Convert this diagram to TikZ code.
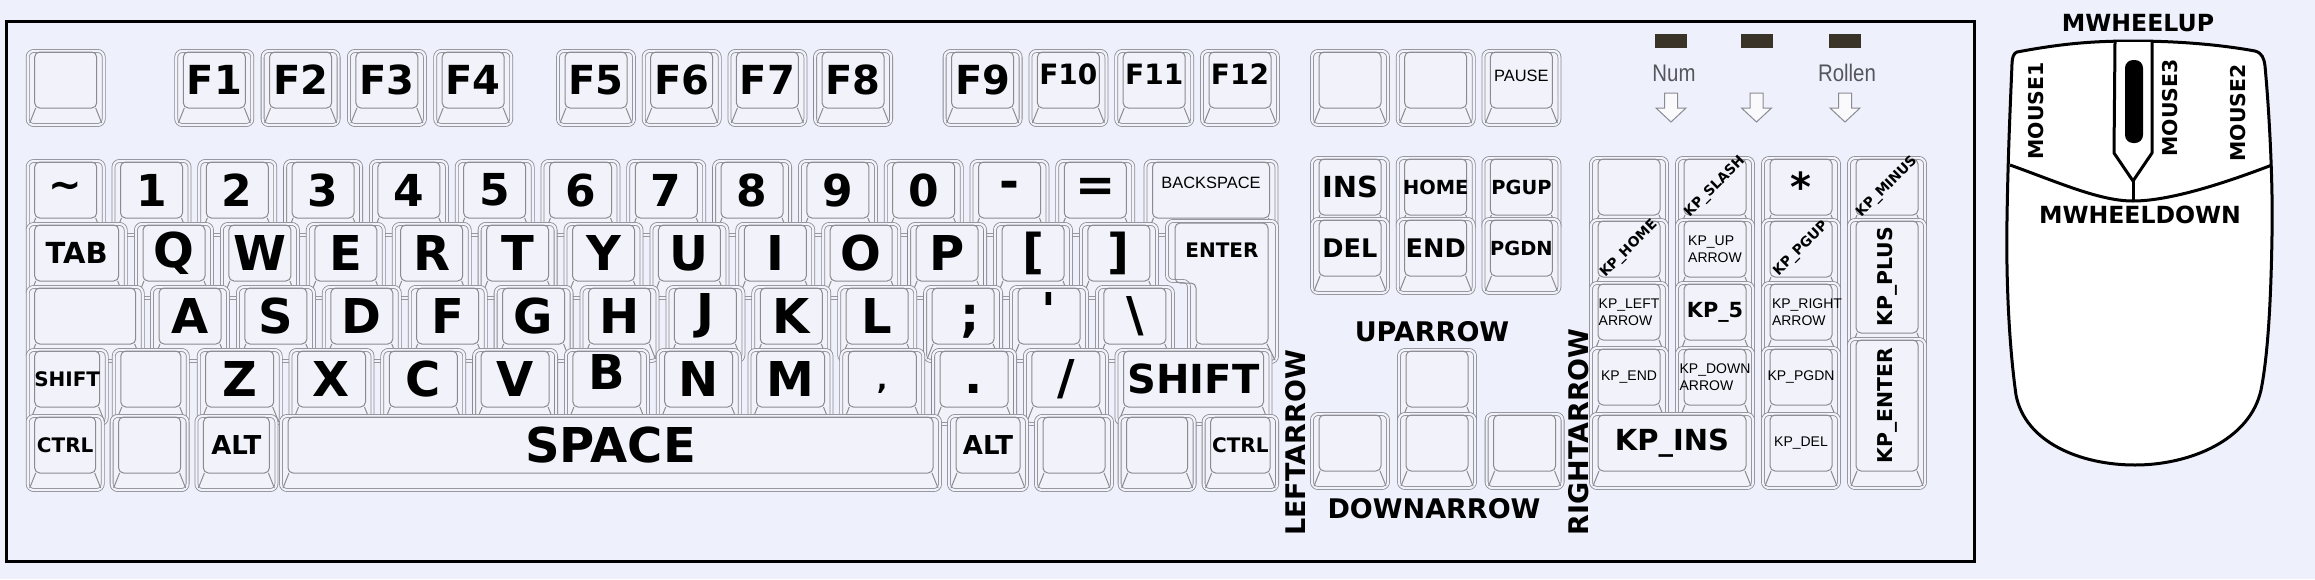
\documentclass[tikz,border=0pt]{standalone}
\usepackage{fontspec}
\setmainfont{DejaVu Sans}
\newfontfamily\narrowfont{Liberation Sans}
\usetikzlibrary{calc}
\definecolor{bgcol}{RGB}{238,240,251}
\definecolor{keyfill}{RGB}{242,243,250}
\definecolor{keygray}{RGB}{138,138,146}
\definecolor{ledcol}{RGB}{58,52,40}
\definecolor{numgray}{RGB}{85,85,92}
\tikzset{
  keyouter/.style={draw=keygray,line width=0.4pt,double=keyfill,double distance=1.1pt,fill=keyfill,rounded corners=3pt},
  keyline/.style={draw=keygray,line width=0.5pt},
  keylabel/.style={inner sep=0pt,outer sep=0pt},
  bigkey/.style={keylabel,font=\fontsize{24}{24}\selectfont\bfseries},
  numkey/.style={keylabel,font=\fontsize{22}{22}\selectfont\bfseries},
  fkey/.style={keylabel,font=\fontsize{20}{20}\selectfont\bfseries},
  fsmall/.style={keylabel,font=\fontsize{14}{14}\selectfont\bfseries},
  midkey/.style={keylabel,font=\fontsize{14.5}{14.5}\selectfont\bfseries},
  altkey/.style={keylabel,font=\fontsize{13}{13}\selectfont\bfseries},
  delkey/.style={keylabel,font=\fontsize{12.8}{12.8}\selectfont\bfseries},
  smallkey/.style={keylabel,font=\fontsize{10}{10}\selectfont\bfseries},
  navkey/.style={keylabel,font=\fontsize{9.7}{9.7}\selectfont\bfseries},
  tinykey/.style={keylabel,font=\narrowfont\fontsize{8.2}{8.2}\selectfont},
  kpsmall/.style={keylabel,align=left,font=\narrowfont\fontsize{7}{8.3}\selectfont},
  kpdiag/.style={keylabel,rotate=45,font=\fontsize{6.9}{6.9}\selectfont\bfseries},
  kpmid/.style={keylabel,font=\fontsize{10.4}{10.4}\selectfont\bfseries},
  kpvert/.style={keylabel,rotate=90,font=\fontsize{10.2}{10.2}\selectfont\bfseries},
  sidelabel/.style={keylabel,font=\fontsize{13.5}{13.5}\selectfont\bfseries},
  ledlabel/.style={keylabel,xscale=0.85,text=numgray,font=\narrowfont\fontsize{12}{12}\selectfont},
  mouseline/.style={draw=black,line width=1.5pt,line join=round},
  mouselabel/.style={keylabel,font=\fontsize{10.2}{10.2}\selectfont\bfseries},
  wheellabel/.style={keylabel,font=\fontsize{11.8}{11.8}\selectfont\bfseries},
}
% key: name, label style, left, top, width, height, label
\newcommand{\kbkey}[7]{%
  \begin{scope}[shift={({#3},{#4})}]
    \draw[keyouter] (0,0) rectangle (#5,#6);
    \draw[keyline,rounded corners=2.5pt] (7,1) rectangle (#5-7,#6-17);
    \draw[keyline] (8,#6-17) -- (2,#6-2) (#5-8,#6-17) -- (#5-2,#6-2);
    \node[#2] (#1) at (#5/2,#6/2-8) {#7};
  \end{scope}}
\newcommand{\ledarrow}[1]{%
  \draw[keyline,fill=white!60!keyfill] (#1-6.5,93) -- (#1+6.5,93) -- (#1+6.5,108) -- (#1+15,108)
    -- (#1,122) -- (#1-15,108) -- (#1-6.5,108) -- cycle;}

\begin{document}
\begin{tikzpicture}[x=0.5pt,y=-0.5pt]
  \fill[bgcol] (0,0) rectangle (2315,579);
  \useasboundingbox (0,0) rectangle (2315,579);
  \draw[line width=1.5pt] (6,21) rectangle (1974,561);

  % function row
  \kbkey{esc}{bigkey}{27.7}{51}{76}{74}{}
  \foreach \i [count=\n from 0] in {1,...,4} {\kbkey{f\i}{fkey}{176.3+\n*86.3}{51}{76}{74}{F\i}}
  \foreach \i [count=\n from 0] in {5,...,8} {\kbkey{f\i}{fkey}{558+\n*85.7}{51}{76}{74}{F\i}}
  \kbkey{f9}{fkey}{944.6}{51}{76}{74}{F9}
  \foreach \i [count=\n from 1] in {10,11,12} {\kbkey{f\i}{fsmall,yshift=3pt}{944.6+\n*85.8}{51}{76}{74}{F\i}}
  \kbkey{print}{keylabel}{1312}{51}{76}{74}{}
  \kbkey{scroll}{keylabel}{1397.7}{51}{76}{74}{}
  \kbkey{pause}{tinykey,yshift=2pt}{1483.4}{51}{76}{74}{PAUSE}

  % number row
  \kbkey{tilde}{fkey}{27.7}{161}{76}{74}{\textasciitilde}
  \foreach \i [count=\n] in {1,2,3,4,5,6,7,8,9,0} {\kbkey{n\i}{numkey}{27.7+\n*85.8}{161}{76}{74}{\i}}
  \kbkey{minus}{bigkey}{971.5}{161}{76}{74}{-}
  \kbkey{equal}{bigkey}{1057.3}{161}{76}{74}{=}
  \kbkey{bksp}{tinykey,yshift=3.5pt}{1145.5}{161}{131}{74}{BACKSPACE}

  % top letter row
  \kbkey{tab}{midkey}{27.7}{224}{98}{74}{TAB}
  \foreach \lab/\nm [count=\n from 0] in {Q/q,W/w,E/e,R/r,T/t,Y/y,U/u,I/i,O/o,P/p,{[}/lbrack,{]}/rbrack}
    {\kbkey{\nm}{bigkey}{136+\n*85.9}{224}{76}{74}{\lab}}
  \draw[keyouter] (1167,221) -- (1277,221) -- (1277,362) -- (1189,362) -- (1189,281) -- (1167,281) -- cycle;
  \draw[keyline,rounded corners=2.5pt] (1175,223) -- (1268,223) -- (1268,344) -- (1196,344) -- (1196,283) -- (1175,283) -- cycle;
  \draw[keyline] (1197,344) -- (1191,360) (1267,344) -- (1275,360);
  \node[smallkey] (enter) at (1222,250) {ENTER};

  % middle letter row
  \kbkey{caps}{keylabel}{27.7}{287}{115}{74}{}
  \foreach \lab/\nm [count=\n from 0] in {A/a,S/s,D/d,F/f,G/g,H/h,J/j,K/k,L/l}
    {\kbkey{\nm}{bigkey}{152+\n*85.9}{287}{76}{74}{\lab}}
  \kbkey{semicolon}{bigkey,xshift=3.5pt,yshift=-3pt}{925.1}{287}{76}{74}{;}
  \kbkey{quote}{bigkey,yshift=3pt}{1011}{287}{76}{74}{\textquotesingle}
  \kbkey{backslash}{bigkey}{1096.9}{287}{76}{74}{\textbackslash}

  % bottom letter row
  \kbkey{lshift}{smallkey}{27.7}{350}{79}{74}{SHIFT}
  \kbkey{ltgt}{keylabel}{113.8}{350}{74}{74}{}
  \foreach \lab/\nm/\dy [count=\n from 0] in {Z/z/0,X/x/0,C/c/0,V/v/0,B/b/3.5,N/n/0,M/m/0}
    {\kbkey{\nm}{bigkey,yshift=\dy pt}{198.7+\n*91.8}{350}{82}{74}{\lab}}
  \kbkey{comma}{fsmall,yshift=-5pt}{841.3}{350}{82}{74}{,}
  \kbkey{period}{bigkey,yshift=-5pt}{933.1}{350}{82}{74}{.}
  \kbkey{slash}{bigkey}{1024.9}{350}{82}{74}{/}
  \kbkey{rshift}{fkey}{1116.5}{350}{154}{74}{SHIFT}

  % space row
  \kbkey{lctrl}{smallkey}{27.7}{416}{75}{74}{CTRL}
  \kbkey{lwin}{keylabel}{111.6}{416}{76}{74}{}
  \kbkey{lalt}{altkey}{196.4}{416}{80}{74}{ALT}
  \kbkey{space}{bigkey}{281}{416}{659}{74}{SPACE}
  \kbkey{ralt}{altkey}{949}{416}{78}{74}{ALT}
  \kbkey{rwin}{keylabel}{1036}{416}{76}{74}{}
  \kbkey{menu}{keylabel}{1119.6}{416}{75}{74}{}
  \kbkey{rctrl}{smallkey}{1203.6}{416}{73.5}{74}{CTRL}

  % navigation block
  \kbkey{ins}{midkey}{1312}{158}{76}{74}{INS}
  \kbkey{home}{navkey}{1397.7}{158}{76}{74}{HOME}
  \kbkey{pgup}{navkey}{1483.4}{158}{76}{74}{PGUP}
  \kbkey{del}{delkey}{1312}{219}{76}{74}{DEL}
  \kbkey{end}{delkey}{1397.7}{219}{76}{74}{END}
  \kbkey{pgdn}{navkey}{1483.4}{219}{76}{74}{PGDN}

  % arrow block
  \kbkey{up}{keylabel}{1399}{350}{76}{74}{}
  \kbkey{left}{keylabel}{1312}{414}{76}{74}{}
  \kbkey{down}{keylabel}{1399}{414}{76}{74}{}
  \kbkey{right}{keylabel}{1486.6}{414}{76}{74}{}
  \node[sidelabel] (uparrow) at (1432,332) {UPARROW};
  \node[sidelabel] (downarrow) at (1434,509) {DOWNARROW};
  \node[sidelabel,rotate=90] (leftarrow) at (1296,443) {LEFTARROW};
  \node[sidelabel,rotate=90] (rightarrow) at (1579,432) {RIGHTARROW};

  % keypad
  \kbkey{numlock}{keylabel}{1591}{158}{76}{74}{}
  \kbkey{kpslash}{kpdiag}{1677}{158}{76}{74}{KP\_SLASH}
  \kbkey{kpstar}{fkey}{1763}{158}{76}{74}{*}
  \kbkey{kpminus}{kpdiag}{1849}{158}{76}{74}{KP\_MINUS}
  \kbkey{kphome}{kpdiag}{1591}{220}{76}{74}{KP\_HOME}
  \kbkey{kpup}{kpsmall}{1677}{220}{76}{74}{KP\_UP\\ARROW}
  \kbkey{kppgup}{kpdiag}{1763}{220}{76}{74}{KP\_PGUP}
  \kbkey{kpplus}{kpvert}{1849}{220}{76}{130}{KP\_PLUS}
  \kbkey{kpleft}{kpsmall}{1591}{283}{76}{74}{KP\_LEFT\\ARROW}
  \kbkey{kpfive}{kpmid}{1677}{283}{76}{74}{KP\_5}
  \kbkey{kpright}{kpsmall,xshift=3pt}{1763}{283}{76}{74}{KP\_RIGHT\\ARROW}
  \kbkey{kpend}{kpsmall}{1591}{348}{76}{74}{KP\_END}
  \kbkey{kpdown}{kpsmall}{1677}{348}{76}{74}{KP\_DOWN\\ARROW}
  \kbkey{kppgdn}{kpsmall}{1763}{348}{76}{74}{KP\_PGDN}
  \kbkey{kpenter}{kpvert}{1849}{339}{76}{149}{KP\_ENTER}
  \kbkey{kpins}{midkey}{1591}{414}{162}{74}{KP\_INS}
  \kbkey{kpdel}{kpsmall}{1763}{414}{76}{74}{KP\_DEL}

  % lock lights
  \foreach \lx/\nm in {1671/numled,1756.5/capsled,1845/scrollled} {
    \fill[ledcol] (\lx-16,34) rectangle (\lx+16,48);
    \coordinate (\nm) at (\lx,41);
    \ledarrow{\lx}
  }
  \node[ledlabel] (num) at (1674,73) {Num};
  \node[ledlabel] (rollen) at (1847,73) {Rollen};

  % mouse
  \draw[mouseline,fill=white] (2017,52) .. controls (2060,44) and (2090,41) .. (2133,41)
    .. controls (2180,41) and (2222,45) .. (2255,51) .. controls (2262,53) and (2264,58) .. (2265,66)
    .. controls (2270,120) and (2273,190) .. (2272,235) .. controls (2271,300) and (2268,355) .. (2261,390)
    .. controls (2250,440) and (2190,465) .. (2135,465) .. controls (2080,465) and (2025,442) .. (2016,395)
    .. controls (2009,345) and (2006,280) .. (2007,220) .. controls (2008,150) and (2011,90) .. (2012,64)
    .. controls (2012,57) and (2014,53) .. (2017,52) -- cycle;
  \draw[mouseline] (2010,165) .. controls (2060,183) and (2100,201) .. (2133,201)
    .. controls (2170,201) and (2225,183) .. (2272,165);
  \draw[mouseline,fill=white] (2115,42) -- (2114,153) -- (2133,181) -- (2152,153) -- (2152,42);
  \draw[mouseline] (2133,181) -- (2133,201);
  \fill[black,rounded corners=4pt] (2125,60) rectangle (2143,143);
  \node[wheellabel] (mwheelup) at (2138,23) {MWHEELUP};
  \node[wheellabel] (mwheeldown) at (2140,215) {MWHEELDOWN};
  \node[mouselabel,rotate=90] (mouse1) at (2036,111) {MOUSE1};
  \node[mouselabel,rotate=90] (mouse3) at (2170,108) {MOUSE3};
  \node[mouselabel,rotate=90] (mouse2) at (2238,113) {MOUSE2};
\end{tikzpicture}
\end{document}
